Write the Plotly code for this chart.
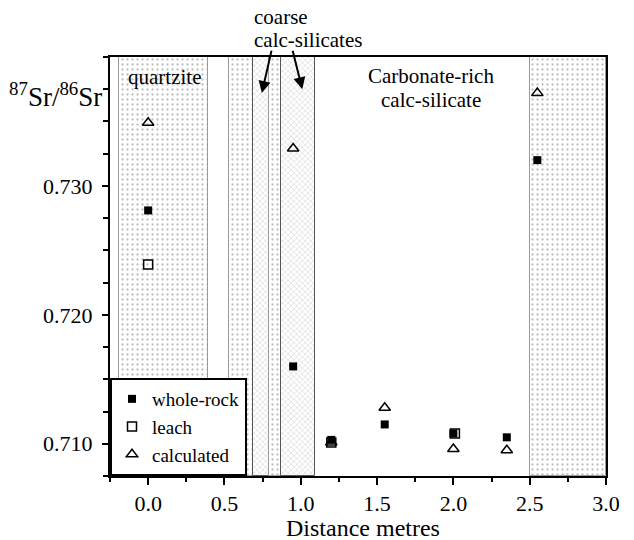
import plotly.graph_objects as go

# Sr isotope ratios along the traverse (distance in metres)
whole_x = [0.0, 0.95, 1.2, 1.55, 2.0, 2.35, 2.55]
whole_y = [0.7281, 0.7160, 0.7103, 0.7115, 0.7108, 0.7105, 0.7320]
leach_x = [0.0, 1.2, 2.01]
leach_y = [0.7239, 0.7101, 0.7108]
calc_x = [0.0, 0.95, 1.2, 1.55, 2.0, 2.35, 2.55]
calc_y = [0.7349, 0.7329, 0.7101, 0.7128, 0.7096, 0.7095, 0.7372]

# Lithological bands behind the data
band_x0 = [-0.19, 0.53, 0.69, 0.79, 0.87, 2.50]
band_x1 = [0.39, 0.69, 0.79, 0.87, 1.09, 3.00]
band_kind = ["dots", "dots", "speckle", "dots", "speckle", "dots"]

x_ticks = [0.0, 0.5, 1.0, 1.5, 2.0, 2.5, 3.0]
y_ticks = [0.710, 0.720, 0.730]
y_tick_text = ["0.710", "0.720", "0.730"]

Y_MIN, Y_MAX = 0.7075, 0.7400
FONT = "Liberation Serif"
PLOT_H = 540 - 57 - 64  # height of the plotting area in px


def py(px_from_top):
    """Paper y coordinate for a pixel row of the page."""
    return (540 - 64 - px_from_top) / PLOT_H


fig = go.Figure()

patterns = {
    "dots": dict(shape=".", size=5, solidity=0.16, fgcolor="#7a7a7a", bgcolor="white"),
    "speckle": dict(shape="x", size=4, solidity=0.25, fgcolor="#a0a0a0", bgcolor="white"),
}
edge = {"dots": "#9a9a9a", "speckle": "#555555"}

for x0, x1, kind in zip(band_x0, band_x1, band_kind):
    fig.add_trace(go.Bar(
        x=[(x0 + x1) / 2], y=[Y_MAX - Y_MIN], base=[Y_MIN], width=[x1 - x0],
        marker=dict(color="white", pattern=patterns[kind],
                    line=dict(color=edge[kind], width=1)),
        showlegend=False, hoverinfo="skip",
    ))

fig.add_trace(go.Scatter(
    x=leach_x, y=leach_y, mode="markers", name="leach", legendrank=2,
    marker=dict(symbol="square-open", size=9, color="black", line=dict(width=1.5)),
))
fig.add_trace(go.Scatter(
    x=calc_x, y=calc_y, mode="markers", name="calculated", legendrank=3,
    marker=dict(symbol="triangle-up-open", size=10, color="black", line=dict(width=1.5)),
))
fig.add_trace(go.Scatter(
    x=whole_x, y=whole_y, mode="markers", name="whole-rock", legendrank=1,
    marker=dict(symbol="square", size=8, color="black"),
))

fig.update_layout(
    width=634, height=540,
    margin=dict(l=110, r=28, t=57, b=64),
    paper_bgcolor="white", plot_bgcolor="white",
    barmode="overlay", bargap=0,
    font=dict(family=FONT, size=21, color="black"),
    legend=dict(x=0, y=0, xanchor="left", yanchor="bottom",
                bordercolor="black", borderwidth=2, bgcolor="white",
                font=dict(family=FONT, size=19), tracegroupgap=0),
    xaxis=dict(
        range=[-0.25, 3.0], tickvals=x_ticks, tickformat=".1f",
        showgrid=False, zeroline=False, automargin=False,
        showline=True, linecolor="black", linewidth=2, mirror=True,
        ticks="outside", ticklen=7, tickwidth=1.5, tickcolor="black",
        tickfont=dict(family=FONT, size=22),
        minor=dict(dtick=0.25, tick0=0, ticks="outside", ticklen=4, tickcolor="black"),
    ),
    yaxis=dict(
        range=[Y_MIN, Y_MAX], tickvals=y_ticks, ticktext=y_tick_text,
        showgrid=False, zeroline=False, automargin=False,
        showline=True, linecolor="black", linewidth=2, mirror=True,
        ticks="outside", ticklen=6, tickwidth=1.5, tickcolor="black",
        ticklabelstandoff=5,
        tickfont=dict(family=FONT, size=22),
        minor=dict(dtick=0.0025, tick0=0.710, ticks="outside", ticklen=5, tickcolor="black"),
    ),
)

mid = dict(yanchor="middle", showarrow=False)

# Axis titles
fig.add_annotation(
    xref="paper", yref="paper", x=0.51, y=py(528), xanchor="center",
    text="Distance metres", font=dict(family=FONT, size=24), **mid,
)
fig.add_annotation(
    xref="paper", yref="paper", x=-0.11, y=py(95), xanchor="center",
    text="<sup>87</sup>Sr/<sup>86</sup>Sr", font=dict(family=FONT, size=27), **mid,
)

# Band labels
fig.add_annotation(xref="x", yref="paper", x=0.11, y=py(77), xanchor="center",
                   text="quartzite", font=dict(family=FONT, size=21), **mid)
fig.add_annotation(xref="x", yref="paper", x=1.855, y=py(76), xanchor="center",
                   text="Carbonate-rich", font=dict(family=FONT, size=21), **mid)
fig.add_annotation(xref="x", yref="paper", x=1.855, y=py(100), xanchor="center",
                   text="calc-silicate", font=dict(family=FONT, size=21), **mid)
fig.add_annotation(xref="x", yref="paper", x=0.68, y=py(17), xanchor="left",
                   text="coarse", font=dict(family=FONT, size=21), **mid)
fig.add_annotation(xref="x", yref="paper", x=0.68, y=py(40), xanchor="left",
                   text="calc-silicates", font=dict(family=FONT, size=21), **mid)

# Pointers to the two coarse bands
fig.add_annotation(xref="x", yref="y", x=0.745, y=0.7372, ax=10, ay=-44,
                   text="", showarrow=True, arrowhead=2, arrowsize=1.2, arrowwidth=2,
                   arrowcolor="black")
fig.add_annotation(xref="x", yref="y", x=1.01, y=0.7375, ax=-10, ay=-40,
                   text="", showarrow=True, arrowhead=2, arrowsize=1.2, arrowwidth=2,
                   arrowcolor="black")

fig.write_html("out.html")
